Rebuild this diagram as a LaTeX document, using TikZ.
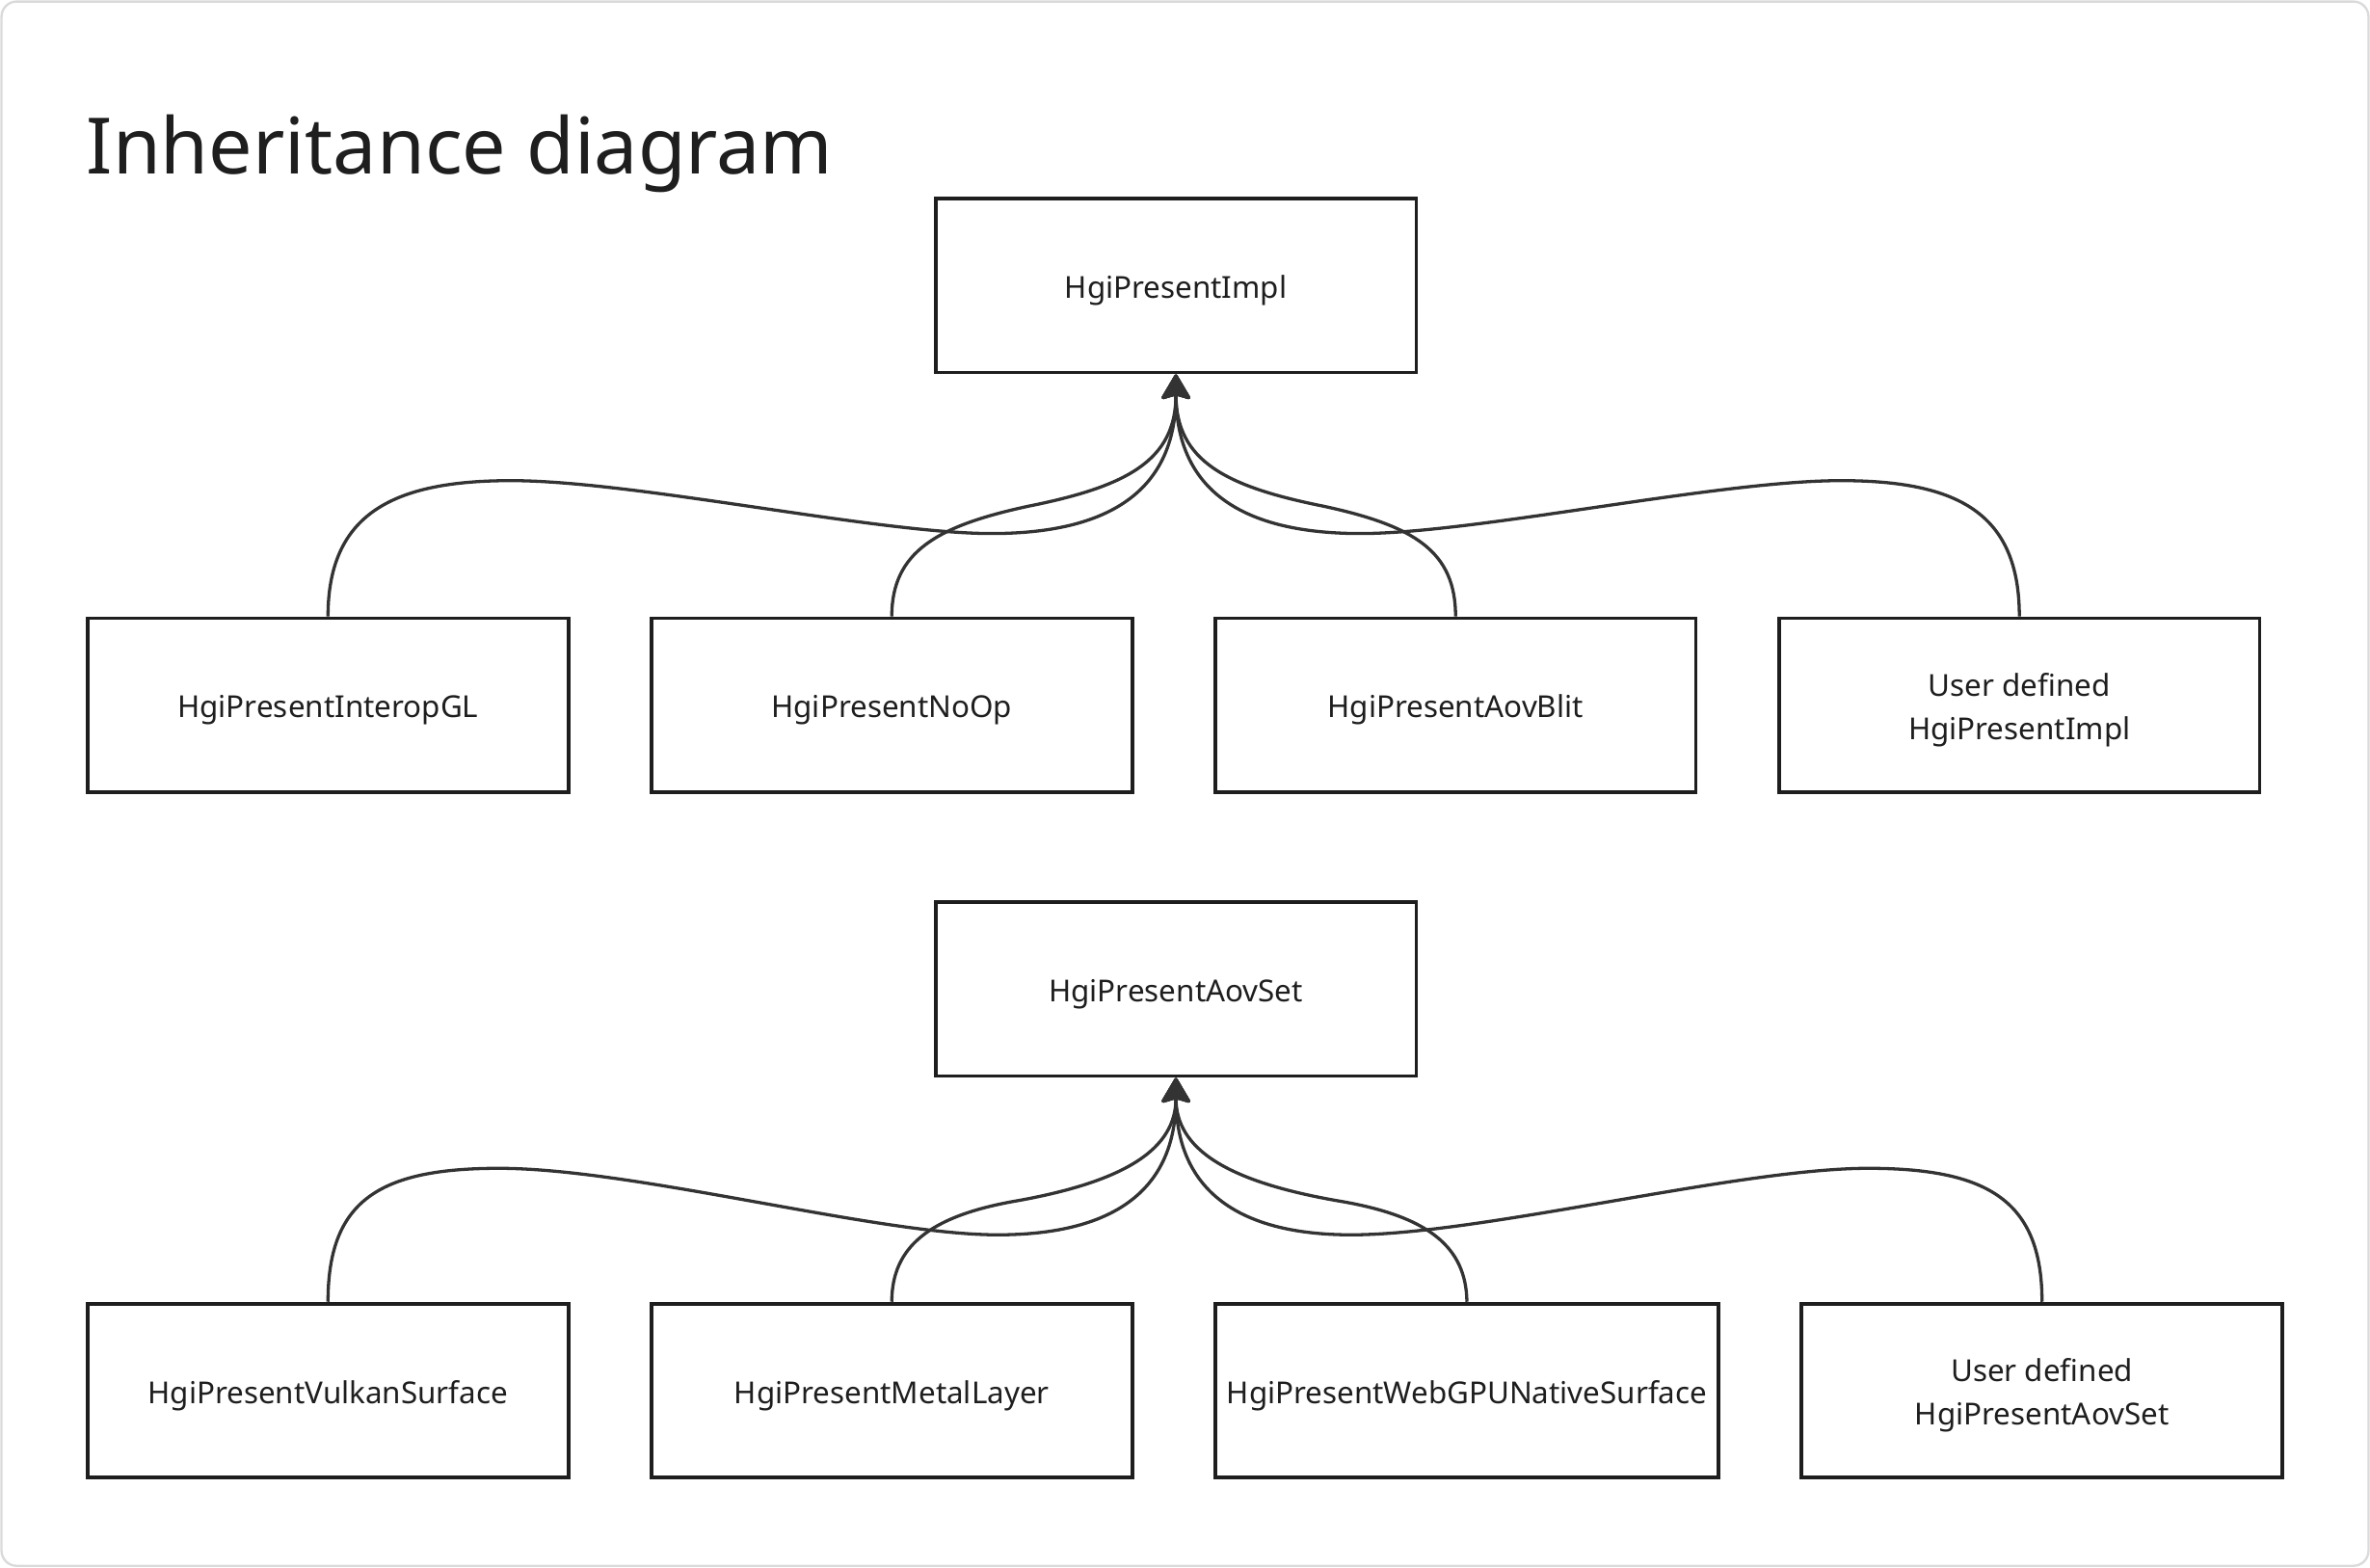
\documentclass[tikz,border=0pt]{standalone}
\usepackage{fontspec}
\setmainfont{Noto Sans}
\usepackage{xcolor}
\usepackage{tikz}
\usetikzlibrary{arrows.meta}
\definecolor{inkDark}{HTML}{1E1E1E}
\definecolor{edgeGray}{HTML}{333333}
\definecolor{frameGray}{HTML}{DADADA}

\begin{document}
\begin{tikzpicture}
  [
    x=1pt, y=-1pt,
    >={Stealth[length=18pt, width=21pt, inset=3pt, round]},
    Class/.style={rectangle, draw=inkDark, line width=2.4pt, minimum width=318pt, minimum height=115pt, inner sep=0pt, align=center, text=inkDark, text height=17pt, text depth=0pt, font=\fontsize{20}{29}\selectfont},
    Wide/.style={Class, minimum width=333pt},
    Double/.style={Class, text height=46pt},
    Title/.style={anchor=base west, inner sep=0pt, text=inkDark, font=\fontsize{51.5}{60}\selectfont},
    Edge/.style={draw=edgeGray, line width=2.1pt},
    Frame/.style={draw=frameGray, line width=1.5pt, rounded corners=10pt}
  ]
  \useasboundingbox (0, 0) rectangle (1568, 1037);
  \path [Frame] (1, 1) rectangle (1567, 1036);
  % Title
  \node[Title] (title) at(57, 115) {Inheritance diagram};
  % Nodes, first tree
  \node[Class] (impl) at(778, 189) {HgiPresentImpl};
  \node[Class] (interop) at(217, 466.5) {HgiPresentInteropGL};
  \node[Class] (noop) at(590, 466.5) {HgiPresentNoOp};
  \node[Class] (aovblit) at(963, 466.5) {HgiPresentAovBlit};
  \node[Double] (userimpl) at(1336, 466.5) {User defined\\HgiPresentImpl};
  % Nodes, second tree
  \node[Class] (aovset) at(778, 654.5) {HgiPresentAovSet};
  \node[Class] (vulkan) at(217, 920) {HgiPresentVulkanSurface};
  \node[Class] (metal) at(590, 920) {HgiPresentMetalLayer};
  \node[Wide] (webgpu) at(970.5, 920) {HgiPresentWebGPUNativeSurface};
  \node[Double] (useraov) at(1351, 920) {User defined\\HgiPresentAovSet};
  % Lines, first tree
  \path [->, Edge] (interop.north) .. controls (217, 340) and (260, 318) .. (338, 318)
    .. controls (420, 318) and (580, 353) .. (656, 353)
    .. controls (740, 353) and (778, 320) .. (impl.south);
  \path [->, Edge] (noop.north) .. controls (590, 365) and (620, 348) .. (680, 335)
    .. controls (745, 322) and (778, 305) .. (impl.south);
  \path [->, Edge] (aovblit.north) .. controls (963, 365) and (936, 348) .. (876, 335)
    .. controls (811, 322) and (778, 305) .. (impl.south);
  \path [->, Edge] (userimpl.north) .. controls (1336, 340) and (1296, 318) .. (1218, 318)
    .. controls (1136, 318) and (976, 353) .. (900, 353)
    .. controls (816, 353) and (778, 320) .. (impl.south);
  % Lines, second tree
  \path [->, Edge] (vulkan.north) .. controls (217, 795) and (250, 773) .. (330, 773)
    .. controls (420, 773) and (580, 817) .. (660, 817)
    .. controls (740, 817) and (778, 785) .. (aovset.south);
  \path [->, Edge] (metal.north) .. controls (590, 825) and (615, 805) .. (670, 795)
    .. controls (745, 782) and (778, 760) .. (aovset.south);
  \path [->, Edge] (webgpu.north) .. controls (970, 825) and (945, 805) .. (888, 795)
    .. controls (811, 782) and (778, 760) .. (aovset.south);
  \path [->, Edge] (useraov.north) .. controls (1351, 795) and (1316, 773) .. (1236, 773)
    .. controls (1150, 773) and (980, 817) .. (894, 817)
    .. controls (816, 817) and (778, 785) .. (aovset.south);
\end{tikzpicture}
\end{document}
